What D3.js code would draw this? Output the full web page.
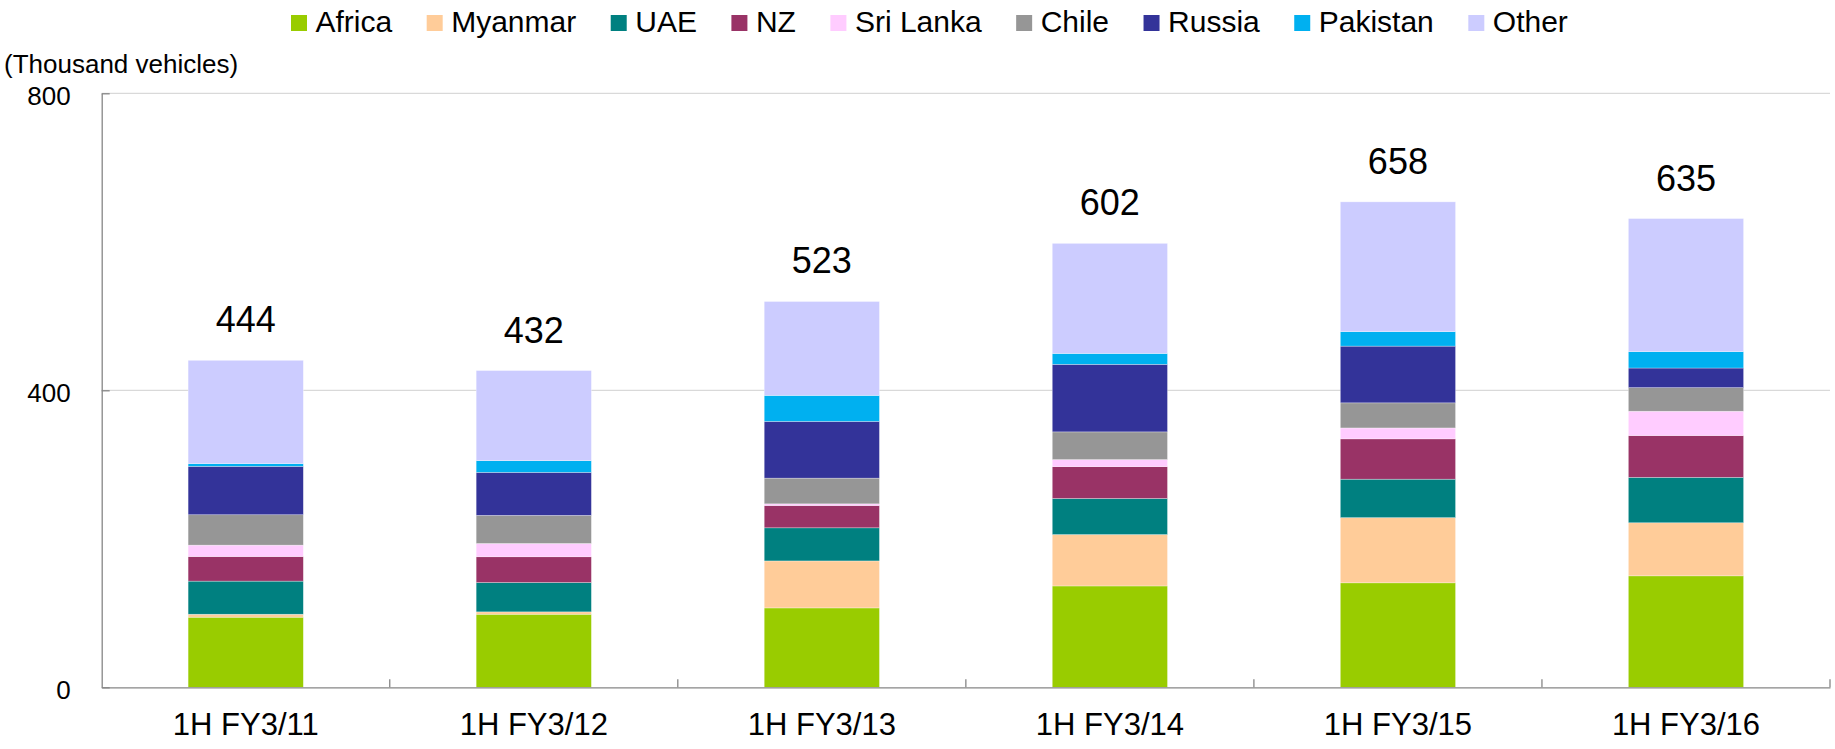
<!DOCTYPE html>
<html>
<head>
<meta charset="utf-8">
<script src="https://cdn.jsdelivr.net/npm/d3@7"></script>
<style>
  body { margin: 0; background: #fff; }
  text { font-family: Arial, "Liberation Sans", sans-serif; fill: #000; }
</style>
</head>
<body>
<div id="chart"></div>
<script>
// data (thousand vehicles)
var categories = ["1H FY3/11", "1H FY3/12", "1H FY3/13", "1H FY3/14", "1H FY3/15", "1H FY3/16"];
var seriesNames = ["Africa", "Myanmar", "UAE", "NZ", "Sri Lanka", "Chile", "Russia", "Pakistan", "Other"];
var seriesColors = ["#99cc00", "#ffcc99", "#008080", "#993366", "#ffccff", "#969696", "#333399", "#00b0f0", "#ccccff"];

var africa   = [94.4, 98.4, 106.9, 136.5, 140.7, 150.1];
var myanmar  = [4.0, 3.2, 63.3, 69.2, 87.8, 71.5];
var uae      = [44.6, 39.5, 44.6, 48.6, 51.8, 61.2];
var nz       = [33.1, 34.7, 30.0, 42.8, 54.3, 56.2];
var sriLanka = [15.4, 17.9, 2.3, 9.6, 14.7, 32.8];
var chile    = [40.9, 37.8, 34.6, 37.3, 33.8, 31.8];
var russia   = [65.2, 58.0, 76.4, 91.0, 76.4, 26.4];
var pakistan = [3.6, 15.7, 35.0, 14.6, 19.5, 22.0];
var other    = [139.2, 121.4, 126.5, 148.3, 174.8, 179.3];

var totalLabels = [444, 432, 523, 602, 658, 635];
var yTicks = [0, 400, 800];

// Step 1: svg canvas
var svgWidth = 1835;
var svgHeight = 749;

var margin = {
  top: 93.3,
  right: 5,
  bottom: 61.7,
  left: 101.7
};

var width = svgWidth - margin.left - margin.right;
var height = svgHeight - margin.top - margin.bottom;

var svg = d3.select("#chart")
  .append("svg")
  .attr("width", svgWidth)
  .attr("height", svgHeight);

var chartGroup = svg.append("g")
  .attr("transform", `translate(${margin.left}, ${margin.top})`);

// Step 2: build table for the stack
var allSeries = [africa, myanmar, uae, nz, sriLanka, chile, russia, pakistan, other];
var table = categories.map(function(c, i) {
  var row = { cat: c };
  seriesNames.forEach(function(s, j) {
    row[s] = allSeries[j][i];
  });
  return row;
});

var stacked = d3.stack().keys(seriesNames)(table);

// Step 3: scales
var xBandScale = d3.scaleBand()
  .domain(categories)
  .range([0, width])
  .paddingInner(0.6)
  .paddingOuter(0.3);

var yLinearScale = d3.scaleLinear()
  .domain([0, 800])
  .range([height, 0]);

var color = d3.scaleOrdinal()
  .domain(seriesNames)
  .range(seriesColors);

// Step 4: gridlines
chartGroup.append("g")
  .selectAll("line")
  .data(yTicks.filter(d => d > 0))
  .enter()
  .append("line")
  .attr("x1", 0)
  .attr("x2", width)
  .attr("y1", d => yLinearScale(d))
  .attr("y2", d => yLinearScale(d))
  .attr("stroke", "#d9d9d9")
  .attr("stroke-width", 1.3);

// Step 5: stacked bars
var layers = chartGroup.selectAll("g.layer")
  .data(stacked)
  .enter()
  .append("g")
  .attr("class", "layer")
  .attr("fill", d => color(d.key));

layers.selectAll("rect")
  .data(d => d)
  .enter()
  .append("rect")
  .attr("x", d => xBandScale(d.data.cat))
  .attr("width", xBandScale.bandwidth())
  .attr("y", d => yLinearScale(d[1]))
  .attr("height", d => yLinearScale(d[0]) - yLinearScale(d[1]))
  .attr("stroke", "#ffffff")
  .attr("stroke-opacity", 0.5)
  .attr("stroke-width", 0.6);

// Step 6: total labels above bars
var topLayer = stacked[stacked.length - 1];
chartGroup.selectAll("text.total")
  .data(topLayer)
  .enter()
  .append("text")
  .attr("class", "total")
  .attr("x", d => xBandScale(d.data.cat) + xBandScale.bandwidth() / 2)
  .attr("y", d => yLinearScale(d[1]) - 28)
  .attr("text-anchor", "middle")
  .attr("font-size", 36)
  .text((d, i) => totalLabels[i]);

// Step 7: axes
var leftAxis = d3.axisLeft(yLinearScale)
  .tickValues(yTicks)
  .tickSizeInner(-8)
  .tickSizeOuter(0)
  .tickPadding(31);

var yAxisG = chartGroup.append("g").call(leftAxis);
yAxisG.select(".domain").attr("stroke", "#868686").attr("stroke-width", 1.3);
yAxisG.selectAll(".tick line").attr("stroke", "#868686").attr("stroke-width", 1.3);
yAxisG.selectAll(".tick text")
  .attr("font-size", 26)
  .attr("font-family", "Arial, 'Liberation Sans', sans-serif")
  .attr("dy", "0.42em");

var bottomAxis = d3.axisBottom(xBandScale)
  .tickSize(0)
  .tickPadding(26);

var xAxisG = chartGroup.append("g")
  .attr("transform", `translate(0, ${height})`)
  .call(bottomAxis);
xAxisG.select(".domain").attr("stroke", "#868686").attr("stroke-width", 1.3);
xAxisG.selectAll(".tick text")
  .attr("font-size", 31)
  .attr("font-family", "Arial, 'Liberation Sans', sans-serif");

// tick marks between the categories
var boundaries = categories.map(c => xBandScale(c) - xBandScale.step() * xBandScale.paddingOuter());
boundaries.push(width);
xAxisG.selectAll("line.sep")
  .data(boundaries.slice(1))
  .enter()
  .append("line")
  .attr("class", "sep")
  .attr("x1", d => d)
  .attr("x2", d => d)
  .attr("y1", 0)
  .attr("y2", -8)
  .attr("stroke", "#868686")
  .attr("stroke-width", 1.3);

// Step 8: unit label
svg.append("text")
  .attr("x", 4)
  .attr("y", 73)
  .attr("font-size", 26)
  .text("(Thousand vehicles)");

// Step 9: legend
var legend = svg.append("g").attr("transform", "translate(291, 0)");
var lx = 0;
seriesNames.forEach(function(name, i) {
  var item = legend.append("g").attr("transform", `translate(${lx}, 0)`);
  item.append("rect")
    .attr("x", 0)
    .attr("y", 15)
    .attr("width", 16)
    .attr("height", 16)
    .attr("fill", seriesColors[i]);
  var t = item.append("text")
    .attr("x", 24.5)
    .attr("y", 32.3)
    .attr("font-size", 30)
    .text(name);
  lx += 24.5 + t.node().getComputedTextLength() + 34.5;
});
</script>
</body>
</html>
